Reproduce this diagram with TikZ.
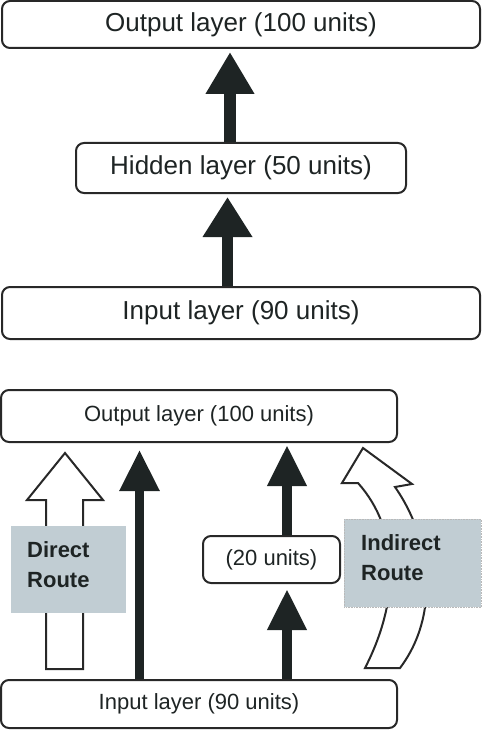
\documentclass[tikz,border=0pt]{standalone}
\usepackage{fontspec}
\setmainfont{Liberation Sans}
\usetikzlibrary{arrows.meta,calc}
\definecolor{ink}{RGB}{30,36,36}
\definecolor{edge}{RGB}{40,40,40}
\definecolor{routegray}{RGB}{193,205,211}
\begin{document}
\begin{tikzpicture}[x=1pt,y=-1pt,
  layer/.style={draw=edge, line width=2pt, rounded corners=8pt, fill=white, inner sep=0pt, text=ink},
  bigfont/.style={font=\fontsize{26}{30}\selectfont},
  smallfont/.style={font=\fontsize{22}{26}\selectfont},
  solidarrow/.style={draw=ink},
  hollow/.style={draw=edge, line width=2pt, fill=white, line join=miter},
  routebox/.style={fill=routegray, inner sep=0pt},
  routetext/.style={font=\bfseries\fontsize{22}{30}\selectfont, text=ink, align=left, inner sep=0pt}]
\useasboundingbox (0,0) rectangle (486,730);

% ---- upper diagram ----
\node[layer, bigfont, minimum width=478, minimum height=47] (out1) at (241,24.5) {Output layer (100 units)};
\node[layer, bigfont, minimum width=330, minimum height=50] (hid) at (241,168) {Hidden layer (50 units)};
\node[layer, bigfont, minimum width=478, minimum height=52] (in1) at (241,313) {Input layer (90 units)};

\draw[solidarrow, line width=12pt, shorten >=3pt, -{Triangle[length=42pt,width=46pt]}]
  ([xshift=-11pt]hid.north) -- ([xshift=-11pt]hid.north |- out1.south);
\draw[solidarrow, line width=11pt, shorten >=3pt, -{Triangle[length=40pt,width=47pt]}]
  ([xshift=-13.5pt]in1.north) -- ([xshift=-13.5pt]in1.north |- hid.south);

% ---- lower diagram ----
\draw[hollow] (46,669) -- (46,500) -- (27,500) -- (65,453) -- (103,500) -- (83,500) -- (83,669) -- cycle;
\draw[hollow] (365,668) .. controls (400,600) and (400,530) .. (358,483)
  -- (342,483) -- (363,448) -- (412,484) -- (395,487)
  .. controls (432,540) and (440,615) .. (400,668) -- cycle;

\node[layer, smallfont, minimum width=396, minimum height=52] (out2) at (199,416) {Output layer (100 units)};
\node[layer, smallfont, minimum width=137, minimum height=47] (mid) at (271.5,559.5) {(20 units)};
\node[layer, smallfont, minimum width=396, minimum height=48] (in2) at (199,704) {Input layer (90 units)};

\draw[solidarrow, line width=9pt, shorten >=7pt, -{Triangle[length=41pt,width=38pt]}]
  ([xshift=-59.5pt]in2.north) -- ([xshift=-59.5pt]in2.north |- out2.south);
\draw[solidarrow, line width=10pt, shorten >=2pt, -{Triangle[length=41pt,width=37pt]}]
  ([xshift=15.5pt]mid.north) -- ([xshift=15.5pt]mid.north |- out2.south);
\draw[solidarrow, line width=10pt, shorten >=5pt, -{Triangle[length=41pt,width=37pt]}]
  ([xshift=15.5pt]mid.south |- in2.north) -- ([xshift=15.5pt]mid.south);

\node[routebox, minimum width=115, minimum height=87, anchor=north west] (dbox) at (11,526) {};
\node[routetext, anchor=north west] (dtext) at (27,541) {Direct\\Route};
\node[routebox, draw=gray!55, densely dotted, line width=0.6pt, minimum width=137, minimum height=88, anchor=north west] (ibox) at (344,519) {};
\node[routetext, anchor=north west] (itext) at (361,534) {Indirect\\Route};
\end{tikzpicture}
\end{document}
